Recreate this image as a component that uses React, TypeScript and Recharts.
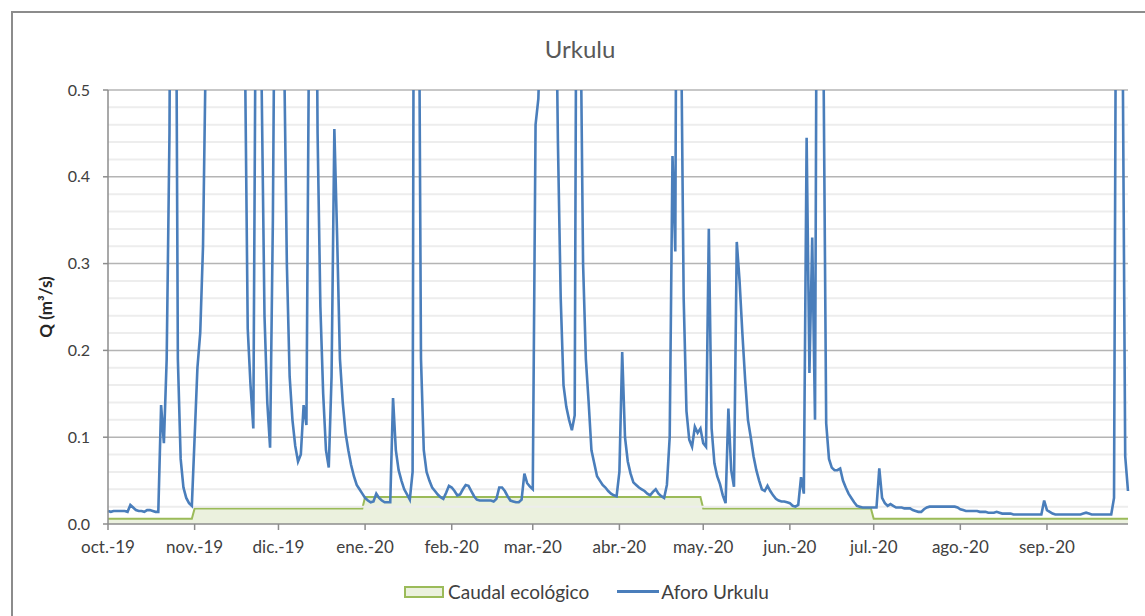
import { ComposedChart, Line, Area, XAxis, YAxis, ReferenceLine, Legend } from "recharts";

const monthLabels = [
  "oct.-19", "nov.-19", "dic.-19", "ene.-20", "feb.-20", "mar.-20",
  "abr.-20", "may.-20", "jun.-20", "jul.-20", "ago.-20", "sep.-20",
];

// Caudal ecológico, one value per month (m3/s)
const caudalEcologico = [0.006, 0.018, 0.018, 0.031, 0.031, 0.031, 0.031, 0.018, 0.018, 0.006, 0.006, 0.006];

// Aforo Urkulu, daily values (values above 0.5 are clipped)
const oct19 = [0.015, 0.014, 0.015, 0.015, 0.015, 0.015, 0.015, 0.014, 0.022, 0.019, 0.016, 0.015, 0.015, 0.014, 0.016, 0.016, 0.015, 0.014, 0.014, 0.137, 0.093, 0.19, 0.45, 1.2, 0.9, 0.19, 0.075, 0.042, 0.03, 0.024, 0.021];
const nov19 = [0.1, 0.18, 0.22, 0.32, 0.55, 0.9, 1.4, 1.8, 1.5, 1.1, 0.9, 1.3, 1.6, 1.2, 0.9, 0.8, 1.0, 0.8, 0.55, 0.225, 0.16, 0.11, 0.7, 1.0, 0.5, 0.24, 0.14, 0.088, 0.35, 0.8];
const dic19 = [1.2, 1.5, 0.55, 0.3, 0.17, 0.12, 0.09, 0.072, 0.08, 0.137, 0.114, 0.6, 1.2, 0.9, 0.45, 0.25, 0.15, 0.085, 0.065, 0.17, 0.455, 0.33, 0.19, 0.14, 0.105, 0.085, 0.068, 0.055, 0.045, 0.04, 0.035];
const ene20 = [0.03, 0.027, 0.025, 0.026, 0.035, 0.03, 0.027, 0.025, 0.025, 0.025, 0.145, 0.085, 0.062, 0.05, 0.04, 0.034, 0.028, 0.06, 1.5, 0.8, 0.19, 0.085, 0.06, 0.05, 0.042, 0.038, 0.034, 0.031, 0.029, 0.036, 0.044];
const feb20 = [0.042, 0.038, 0.033, 0.034, 0.04, 0.045, 0.044, 0.038, 0.032, 0.028, 0.027, 0.027, 0.027, 0.027, 0.027, 0.026, 0.029, 0.042, 0.042, 0.038, 0.032, 0.027, 0.026, 0.025, 0.025, 0.028, 0.058, 0.047, 0.043];
const mar20 = [0.04, 0.46, 0.49, 0.6, 1.0, 1.5, 1.8, 1.2, 0.7, 0.44, 0.26, 0.16, 0.135, 0.12, 0.108, 0.125, 1.0, 0.62, 0.3, 0.19, 0.14, 0.085, 0.07, 0.055, 0.05, 0.045, 0.042, 0.038, 0.035, 0.033, 0.032];
const abr20 = [0.06, 0.198, 0.1, 0.072, 0.058, 0.048, 0.045, 0.042, 0.04, 0.038, 0.035, 0.033, 0.037, 0.04, 0.035, 0.032, 0.03, 0.045, 0.1, 0.424, 0.314, 1.2, 0.6, 0.26, 0.13, 0.097, 0.089, 0.112, 0.105, 0.11];
const may20 = [0.093, 0.089, 0.34, 0.11, 0.07, 0.055, 0.046, 0.033, 0.024, 0.133, 0.062, 0.043, 0.325, 0.28, 0.22, 0.166, 0.12, 0.1, 0.078, 0.062, 0.05, 0.04, 0.038, 0.044, 0.038, 0.033, 0.029, 0.027, 0.026, 0.026, 0.025];
const jun20 = [0.024, 0.021, 0.02, 0.022, 0.054, 0.035, 0.445, 0.174, 0.33, 0.12, 1.0, 1.3, 0.55, 0.116, 0.075, 0.065, 0.062, 0.062, 0.064, 0.05, 0.042, 0.035, 0.03, 0.025, 0.021, 0.02, 0.019, 0.019, 0.019, 0.019];
const jul20 = [0.019, 0.019, 0.064, 0.03, 0.024, 0.021, 0.023, 0.021, 0.019, 0.019, 0.019, 0.018, 0.018, 0.018, 0.016, 0.015, 0.014, 0.014, 0.017, 0.019, 0.02, 0.02, 0.02, 0.02, 0.02, 0.02, 0.02, 0.02, 0.02, 0.02, 0.019];
const ago20 = [0.017, 0.016, 0.015, 0.015, 0.015, 0.015, 0.015, 0.014, 0.014, 0.014, 0.013, 0.013, 0.013, 0.014, 0.013, 0.012, 0.012, 0.012, 0.012, 0.011, 0.011, 0.011, 0.011, 0.011, 0.011, 0.011, 0.011, 0.011, 0.011, 0.011, 0.027];
const sep20 = [0.016, 0.014, 0.012, 0.011, 0.011, 0.011, 0.011, 0.011, 0.011, 0.011, 0.011, 0.011, 0.011, 0.012, 0.013, 0.012, 0.011, 0.011, 0.011, 0.011, 0.011, 0.011, 0.011, 0.011, 0.03, 0.9, 1.3, 0.6, 0.078, 0.038];

const aforoByMonth = [oct19, nov19, dic19, ene20, feb20, mar20, abr20, may20, jun20, jul20, ago20, sep20];

const yTicks = [0, 0.1, 0.2, 0.3, 0.4, 0.5];
const minorValues = [0.02, 0.04, 0.06, 0.08, 0.12, 0.14, 0.16, 0.18, 0.22, 0.24, 0.26, 0.28, 0.32, 0.34, 0.36, 0.38, 0.42, 0.44, 0.46, 0.48];

const data: { d: number; aforo: number; caudal: number }[] = [];
const monthStarts: number[] = [];
let day = 0;
aforoByMonth.forEach((values, m) => {
  monthStarts.push(day);
  values.forEach((v) => {
    data.push({ d: day, aforo: v, caudal: caudalEcologico[m] });
    day++;
  });
});
const lastDay = day - 1;

const tickLabel = (v: number) => monthLabels[monthStarts.indexOf(v)] ?? "";

function LegendContent() {
  return (
    <div style={{ display: "flex", justifyContent: "center", alignItems: "center", fontSize: 19, color: "#404040" }}>
      <span style={{ display: "inline-block", width: 36, height: 8, border: "2px solid #9bbb59", background: "#ebf1de", marginRight: 4 }} />
      <span>Caudal ecológico</span>
      <span style={{ display: "inline-block", width: 42, height: 3, background: "#4a7ebb", marginLeft: 28, marginRight: 2 }} />
      <span>Aforo Urkulu</span>
    </div>
  );
}

function YLabel({ viewBox }: any) {
  const cx = viewBox.x + 45;
  const cy = viewBox.y + viewBox.height / 2;
  return (
    <text x={cx} y={cy} transform={`rotate(-90 ${cx} ${cy})`} textAnchor="middle" dominantBaseline="central"
      fontSize={17} fontWeight="bold" fill="#262626">
      Q (m³/s)
    </text>
  );
}

export default function App() {
  return (
    <div style={{ position: "fixed", left: 0, top: 0, width: 1145, height: 616, overflow: "hidden", background: "#fff", fontFamily: "Lato, sans-serif" }}>
      <div style={{ position: "absolute", left: 11, top: 11, width: 1160, height: 640, border: "2px solid #8c8c8c" }} />
      <div style={{ position: "absolute", left: 480, top: 34, width: 200, textAlign: "center", fontSize: 24, color: "#595959" }}>
        Urkulu
      </div>
      <div style={{ position: "absolute", left: 0, top: 0 }}>
        <ComposedChart width={1145} height={616} data={data} margin={{ top: 90, right: 17, bottom: 62, left: 0 }}>
          {minorValues.map((v) => (
            <ReferenceLine key={"m" + v} y={v} stroke="#ededed" strokeWidth={2} />
          ))}
          {yTicks.slice(1).map((v) => (
            <ReferenceLine key={"t" + v} y={v} stroke="#b4b4b4" strokeWidth={1.5} />
          ))}
          <XAxis
            type="number"
            dataKey="d"
            domain={[0, lastDay]}
            ticks={monthStarts}
            tickFormatter={tickLabel}
            interval={0}
            height={30}
            stroke="#8c8c8c"
            strokeWidth={1.5}
            tickSize={6}
            tickMargin={11}
            tick={{ fill: "#404040", fontSize: 17 }}
          />
          <YAxis
            type="number"
            domain={[0, 0.5]}
            ticks={yTicks}
            allowDataOverflow
            tickFormatter={(v: number) => v.toFixed(1)}
            width={108}
            stroke="#8c8c8c"
            strokeWidth={1.5}
            tickSize={5}
            tickMargin={13}
            tick={{ fill: "#404040", fontSize: 16 }}
            label={<YLabel />}
          />
          <Area type="linear" dataKey="caudal" name="Caudal ecológico" stroke="#9bbb59" strokeWidth={2} fill="#ebf1de" fillOpacity={1} isAnimationActive={false} />
          <Line type="linear" dataKey="aforo" name="Aforo Urkulu" stroke="#4a7ebb" strokeWidth={2.6} dot={false} isAnimationActive={false} />
          <Legend verticalAlign="middle" content={<LegendContent />} wrapperStyle={{ top: 580, left: 28, width: 1117 }} />
        </ComposedChart>
      </div>
    </div>
  );
}
